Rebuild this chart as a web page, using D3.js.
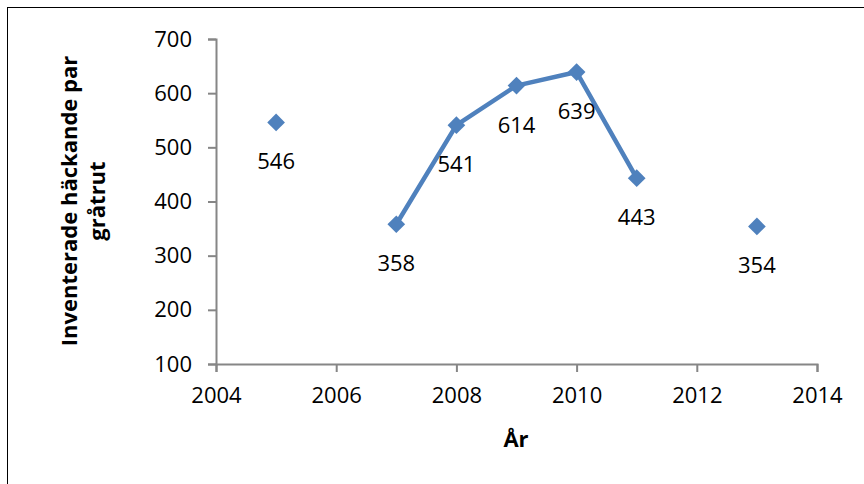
<!DOCTYPE html>
<html>
<head>
<meta charset="utf-8">
<script src="https://cdn.jsdelivr.net/npm/d3@7"></script>
<style>
  body { margin: 0; background: #fff; }
  text { font-family: "Open Sans", "Liberation Sans", sans-serif; fill: #000; }
</style>
</head>
<body>
<script>
  // data (null = no survey that year)
  var years  = [2005, 2006, 2007, 2008, 2009, 2010, 2011, 2012, 2013];
  var pairs  = [546, null, 358, 541, 614, 639, 443, null, 354];
  var xTicks = [2004, 2006, 2008, 2010, 2012, 2014];
  var yTicks = [100, 200, 300, 400, 500, 600, 700];

  var W = 864, H = 484;
  var plot = {left: 216, right: 817, top: 39, bottom: 364};

  var svg = d3.select("body").append("svg")
    .attr("width", W)
    .attr("height", H);

  // chart frame
  svg.append("rect")
    .attr("x", 7.5).attr("y", 7.5)
    .attr("width", W + 10).attr("height", H + 10)
    .attr("fill", "none")
    .attr("stroke", "#000")
    .attr("stroke-width", 1);

  var x = d3.scaleLinear().domain([2004, 2014]).range([plot.left, plot.right]);
  var y = d3.scaleLinear().domain([100, 700]).range([plot.bottom, plot.top]);

  var axisColor = "#868686";

  var gx = svg.append("g")
    .attr("transform", "translate(0," + plot.bottom + ")")
    .call(d3.axisBottom(x).tickValues(xTicks).tickFormat(d3.format("d")).tickSizeOuter(0).tickSize(8).tickPadding(15));
  var gy = svg.append("g")
    .attr("transform", "translate(" + plot.left + ",0)")
    .call(d3.axisLeft(y).tickValues(yTicks).tickSizeOuter(0).tickSize(8).tickPadding(16));

  [gx, gy].forEach(function(g){
    g.select(".domain").attr("stroke", axisColor).attr("stroke-width", 2);
    g.selectAll(".tick line").attr("stroke", axisColor).attr("stroke-width", 2);
    g.selectAll(".tick text").style("font-size", "22px").attr("fill", "#000");
  });

  var data = years.map(function(yr, i){ return {year: yr, value: pairs[i]}; });
  var present = data.filter(function(d){ return d.value !== null; });

  var blue = "#4F81BD";

  // line, broken where a year is missing
  var line = d3.line()
    .defined(function(d){ return d.value !== null; })
    .x(function(d){ return x(d.year); })
    .y(function(d){ return y(d.value); });

  svg.append("path")
    .datum(data)
    .attr("d", line)
    .attr("fill", "none")
    .attr("stroke", blue)
    .attr("stroke-width", 4.5)
    .attr("stroke-linejoin", "round");

  var diamond = d3.symbol().type(d3.symbolDiamond2).size(200);

  svg.append("g")
    .selectAll("path")
    .data(present)
    .enter().append("path")
    .attr("d", diamond)
    .attr("transform", function(d){ return "translate(" + x(d.year) + "," + y(d.value) + ")"; })
    .attr("fill", blue);

  // value labels below each point
  svg.append("g")
    .selectAll("text")
    .data(present)
    .enter().append("text")
    .attr("x", function(d){ return x(d.year); })
    .attr("y", function(d){ return y(d.value) + 47; })
    .attr("text-anchor", "middle")
    .style("font-size", "22px")
    .text(function(d){ return d.value; });

  // axis titles
  svg.append("text")
    .attr("x", 516).attr("y", 447)
    .attr("text-anchor", "middle")
    .style("font-size", "22px")
    .style("font-weight", "bold")
    .text("År");

  var yt = svg.append("text")
    .attr("transform", "translate(77,201) rotate(-90)")
    .attr("text-anchor", "middle")
    .style("font-size", "22px")
    .style("font-weight", "bold");
  yt.append("tspan").attr("x", 0).attr("y", 0).text("Inventerade häckande par");
  yt.append("tspan").attr("x", 0).attr("y", 28).text("gråtrut");
</script>
</body>
</html>
